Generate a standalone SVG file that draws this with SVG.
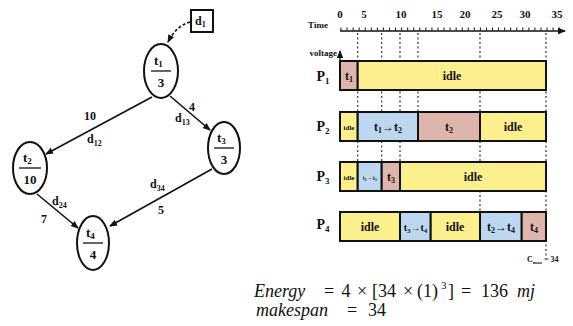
<svg xmlns="http://www.w3.org/2000/svg" width="573" height="326" viewBox="0 0 573 326">
<style>
.b{font-family:"Liberation Serif","DejaVu Serif",serif;font-weight:bold;fill:#111}
.n{fill:#fff;stroke:#111;stroke-width:2}
.e{stroke:#111;stroke-width:1.6;fill:none}
.bx{stroke:#111;stroke-width:2}
.pk{fill:#DEB5AC}.yl{fill:#FCF08E}.bl{fill:#BDD7EE}
.dl{stroke:#333;stroke-width:1.2;stroke-dasharray:2 2.5}
.eq{font-family:"Liberation Serif","DejaVu Serif",serif;font-size:18px;fill:#111}
.it{font-style:italic}
</style>
<defs>
<marker id="ah" markerWidth="8" markerHeight="8" refX="7" refY="4" orient="auto" markerUnits="userSpaceOnUse">
<path d="M0,0.8 L8,4 L0,7.2 Z" fill="#111"/>
</marker>
</defs>
<g id="connectors">
<path class="e" d="M190,22 Q176,26 168,42" stroke-dasharray="3 2" marker-end="url(#ah)"/>
<line class="e" x1="152" y1="97" x2="46" y2="154" marker-end="url(#ah)"/>
<line class="e" x1="170" y1="96" x2="210" y2="130" marker-end="url(#ah)"/>
<line class="e" x1="37" y1="194" x2="78" y2="228" marker-end="url(#ah)"/>
<line class="e" x1="212" y1="169" x2="110" y2="226" marker-end="url(#ah)"/>
<text class="b" font-size="12" x="84" y="120">10</text>
<text class="b" font-size="12" x="87" y="143">d<tspan font-size="8" dy="3">12</tspan></text>
<text class="b" font-size="12" x="189" y="111">4</text>
<text class="b" font-size="12" x="175" y="122">d<tspan font-size="8" dy="3">13</tspan></text>
<text class="b" font-size="12" x="52" y="205">d<tspan font-size="8" dy="3">24</tspan></text>
<text class="b" font-size="12" x="41" y="223">7</text>
<text class="b" font-size="12" x="150" y="188">d<tspan font-size="8" dy="3">34</tspan></text>
<text class="b" font-size="12" x="158" y="214">5</text>
</g>
<g id="d1">
<rect x="191" y="10" width="22" height="22" fill="#fff" stroke="#111" stroke-width="2"/>
<text class="b" font-size="12" x="195" y="25">d<tspan font-size="8" dy="2">1</tspan></text>
</g>
<g id="t1">
<ellipse class="n" cx="161" cy="71" rx="17" ry="27"/>
<text class="b" font-size="13" x="154" y="65">t<tspan font-size="9" dy="2">1</tspan></text>
<line x1="151" y1="71" x2="171" y2="71" stroke="#111" stroke-width="1.3"/>
<text class="b" font-size="13" x="161" y="87" text-anchor="middle">3</text>
</g>
<g id="t2">
<ellipse class="n" cx="30" cy="168" rx="17" ry="26"/>
<text class="b" font-size="13" x="23" y="162">t<tspan font-size="9" dy="2">2</tspan></text>
<line x1="19" y1="168" x2="41" y2="168" stroke="#111" stroke-width="1.3"/>
<text class="b" font-size="13" x="30" y="184" text-anchor="middle">10</text>
</g>
<g id="t3">
<ellipse class="n" cx="224" cy="148" rx="16" ry="26"/>
<text class="b" font-size="13" x="217" y="142">t<tspan font-size="9" dy="2">3</tspan></text>
<line x1="214" y1="148" x2="234" y2="148" stroke="#111" stroke-width="1.3"/>
<text class="b" font-size="13" x="224" y="164" text-anchor="middle">3</text>
</g>
<g id="t4">
<ellipse class="n" cx="93" cy="243" rx="16" ry="27"/>
<text class="b" font-size="13" x="86" y="237">t<tspan font-size="9" dy="2">4</tspan></text>
<line x1="83" y1="243" x2="103" y2="243" stroke="#111" stroke-width="1.3"/>
<text class="b" font-size="13" x="93" y="259" text-anchor="middle">4</text>
</g>
<g id="gantt">
<g class="b" font-size="11" text-anchor="middle">
<text x="340" y="18">0</text><text x="364" y="18">5</text><text x="401" y="18">10</text><text x="437" y="18">15</text><text x="465" y="18">20</text><text x="497" y="18">25</text><text x="525" y="18">30</text><text x="557" y="18">35</text>
</g>
<text class="b" font-size="9" x="318" y="28" text-anchor="middle">Time</text>
<line x1="340" y1="31" x2="565" y2="31" stroke="#111" stroke-width="1.3" marker-end="url(#ah)"/>
<line x1="340.5" y1="29" x2="560" y2="29" stroke="#111" stroke-width="3" stroke-dasharray="1 5.06"/>
<line class="dl" x1="357.7" y1="33" x2="357.7" y2="162"/>
<line class="dl" x1="381.7" y1="33" x2="381.7" y2="162"/>
<line class="dl" x1="400" y1="33" x2="400" y2="162"/>
<line class="dl" x1="418" y1="33" x2="418" y2="112"/>
<line class="dl" x1="480" y1="33" x2="480" y2="212"/>
<line class="dl" x1="546" y1="33" x2="546" y2="256"/>
<text class="b" font-size="9" x="337" y="56" text-anchor="end">voltage</text>
<line x1="340" y1="61" x2="340" y2="51" stroke="#111" stroke-width="1.3" marker-end="url(#ah)"/>
<g class="b" font-size="14" text-anchor="middle">
<text x="323" y="81">P<tspan font-size="9" dy="3">1</tspan></text>
<text x="323" y="131">P<tspan font-size="9" dy="3">2</tspan></text>
<text x="323" y="181">P<tspan font-size="9" dy="3">3</tspan></text>
<text x="323" y="229">P<tspan font-size="9" dy="3">4</tspan></text>
</g>
<rect class="bx pk" x="340" y="61" width="17.7" height="29"/>
<rect class="bx yl" x="357.7" y="61" width="188.3" height="29"/>
<rect class="bx yl" x="340" y="112" width="17.7" height="29"/>
<rect class="bx bl" x="357.7" y="112" width="60.3" height="29"/>
<rect class="bx pk" x="418" y="112" width="62" height="29"/>
<rect class="bx yl" x="480" y="112" width="66" height="29"/>
<rect class="bx yl" x="340" y="162" width="17.7" height="29"/>
<rect class="bx bl" x="357.7" y="162" width="24" height="29"/>
<rect class="bx pk" x="381.7" y="162" width="18.3" height="29"/>
<rect class="bx yl" x="400" y="162" width="146" height="29"/>
<rect class="bx yl" x="340" y="212" width="60" height="29"/>
<rect class="bx bl" x="400" y="212" width="30.7" height="29"/>
<rect class="bx yl" x="430.7" y="212" width="49.3" height="29"/>
<rect class="bx bl" x="480" y="212" width="41.7" height="29"/>
<rect class="bx pk" x="521.7" y="212" width="24.3" height="29"/>
<g class="b" font-size="12" text-anchor="middle">
<text x="349" y="80">t<tspan font-size="8" dy="2">1</tspan></text>
<text x="452" y="80">idle</text>
<text x="349" y="130" font-size="7">idle</text>
<text x="388" y="131">t<tspan font-size="8" dy="2">1</tspan><tspan dy="-2">→t</tspan><tspan font-size="8" dy="2">2</tspan></text>
<text x="449" y="131">t<tspan font-size="8" dy="2">2</tspan></text>
<text x="513" y="131">idle</text>
<text x="349" y="180" font-size="7">idle</text>
<text x="369.7" y="180" font-size="6">t<tspan font-size="4" dy="1">1</tspan><tspan dy="-1">→t</tspan><tspan font-size="4" dy="1">3</tspan></text>
<text x="391" y="181">t<tspan font-size="8" dy="2">3</tspan></text>
<text x="473" y="181">idle</text>
<text x="370" y="231">idle</text>
<text x="415.5" y="231" font-size="10">t<tspan font-size="7" dy="2">3</tspan><tspan dy="-2">→t</tspan><tspan font-size="7" dy="2">4</tspan></text>
<text x="455" y="231">idle</text>
<text x="501" y="231">t<tspan font-size="8" dy="2">2</tspan><tspan dy="-2">→t</tspan><tspan font-size="8" dy="2">4</tspan></text>
<text x="534" y="231">t<tspan font-size="8" dy="2">4</tspan></text>
</g>
<text class="b" font-size="8" x="527" y="262">C<tspan font-size="5" dy="1.5">max</tspan><tspan dy="-1.5"> = 34</tspan></text>
</g>
<g id="equations" class="eq">
<text class="it" x="254" y="297">Energy</text>
<text x="329" y="297" text-anchor="middle">=</text>
<text x="346" y="297" text-anchor="middle">4</text>
<text x="362" y="297" text-anchor="middle">×</text>
<text x="372" y="297">[34</text>
<text x="408" y="297" text-anchor="middle">×</text>
<text x="417" y="297">(1)</text>
<text x="441" y="289" font-size="11">3</text>
<text x="448" y="297">]</text>
<text x="466" y="297" text-anchor="middle">=</text>
<text x="481" y="297">136</text>
<text class="it" x="517" y="297">mj</text>
<text class="it" x="256" y="316">makespan</text>
<text x="352" y="316" text-anchor="middle">=</text>
<text x="368" y="316">34</text>
</g>
</svg>
